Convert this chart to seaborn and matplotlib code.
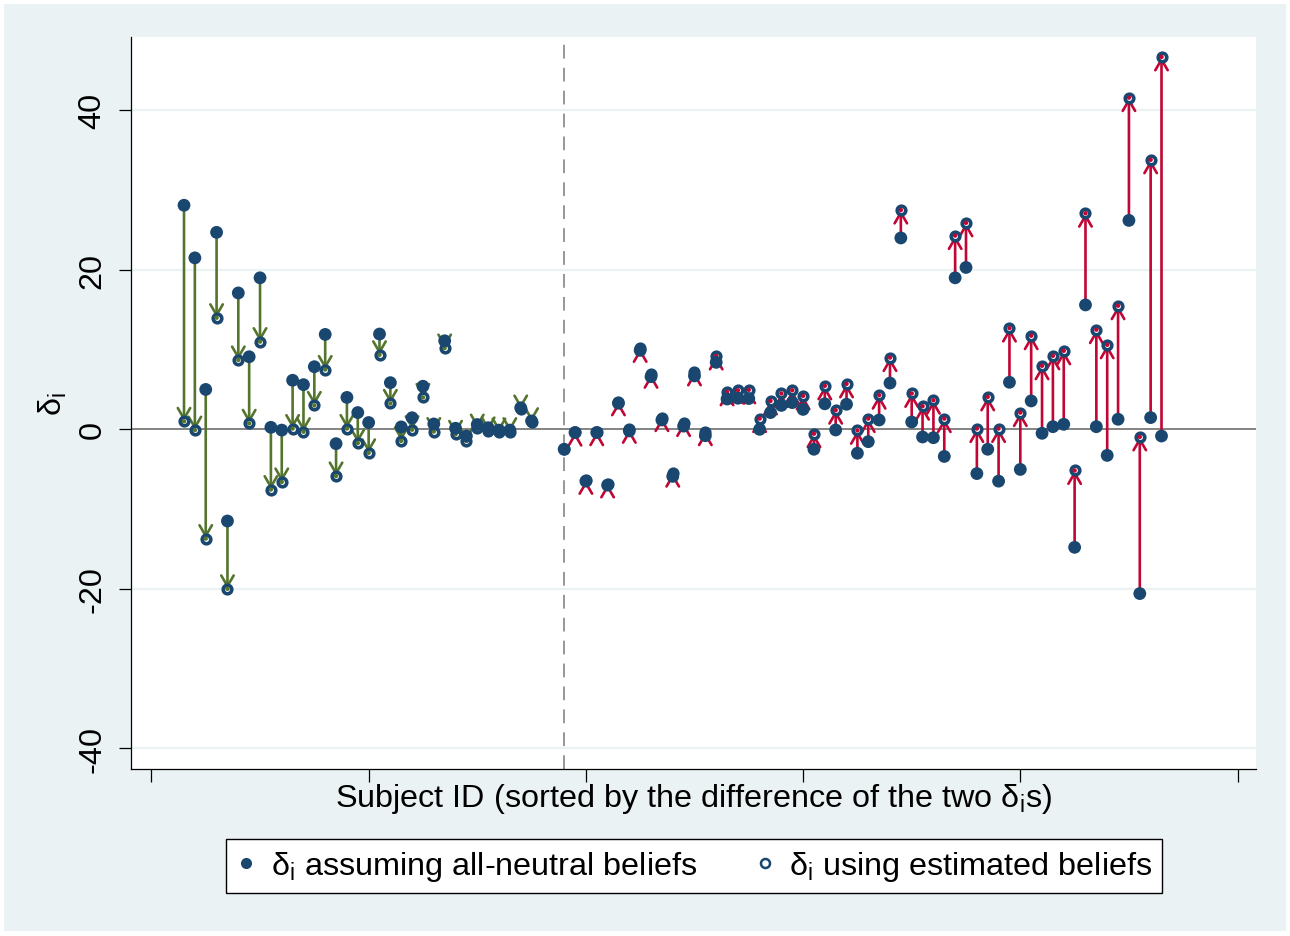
#%%
# libraries
import numpy as np
import pandas as pd
import seaborn as sns
import matplotlib.pyplot as plt
from matplotlib.lines import Line2D
from matplotlib.patches import Rectangle


#%%
# data
subject_rank = list(range(3, 36)) + list(range(38, 94))

delta_neutral = [
    28.1, 21.5, 5.0, 24.7, -11.5, 17.1, 9.1, 19.0, 0.25, -0.1, 6.15, 5.6, 7.85,
    11.9, -1.8, 4.0, 2.1, 0.85, 11.95, 5.85, 0.3, 1.45, 5.4, 0.67, 11.1, 0.13,
    -0.84, 0.6, 0.2, -0.1, -0.1, 2.7, 1.05,
    -2.5, -0.4, -6.5, -0.4, -7.0, 3.27, -0.2, 9.9, 6.6, 1.17, -5.9, 0.4, 6.7,
    -0.8, 8.4, 3.8, 3.9, 3.86, 0.0, 2.1, 3.0, 3.35, 2.5, -2.5, 3.2, -0.08, 3.14,
    -3.0, -1.55, 1.17, 5.8, 24.0, 0.92, -0.96, -1.05, -3.4, 19.0, 20.3, -5.55,
    -2.5, -6.5, 5.9, -5.03, 3.56, -0.5, 0.33, 0.63, -14.8, 15.6, 0.33, -3.27,
    1.26, 26.2, -20.6, 1.47, -0.84,
]

delta_estimated = [
    1.0, -0.1, -13.7, 14.0, -20.0, 8.7, 0.75, 11.0, -7.55, -6.6, 0.1, -0.3, 3.0,
    7.5, -5.85, 0.1, -1.72, -2.95, 9.35, 3.25, -1.45, -0.05, 4.0, -0.28, 10.2,
    -0.63, -1.47, 0.15, -0.2, -0.35, -0.3, 2.55, 0.95,
    -2.5, -0.35, -6.4, -0.3, -6.85, 3.45, 0.0, 10.15, 6.9, 1.47, -5.5, 0.85, 7.2,
    -0.3, 9.2, 4.7, 4.9, 4.95, 1.35, 3.56, 4.5, 4.9, 4.2, -0.55, 5.45, 2.4, 5.7,
    -0.13, 1.35, 4.28, 9.0, 27.5, 4.5, 2.9, 3.65, 1.34, 24.3, 25.9, 0.1,
    4.07, 0.1, 12.7, 2.1, 11.74, 7.97, 9.22, 9.85, -5.16, 27.1, 12.5, 10.6,
    15.5, 41.6, -0.95, 33.8, 46.7,
]

split_rank = 38

df = pd.DataFrame({"rank": subject_rank, "neutral": delta_neutral, "estimated": delta_estimated})
df["diff"] = df["estimated"] - df["neutral"]


#%%
# colors (stata s2color)
NAVY = "#1A476F"
GREEN = "#55752F"
RED = "#C10534"
BG = "#EAF2F3"

sns.set_style("white")
plt.rcParams["font.family"] = ["Liberation Sans", "DejaVu Sans"]
plt.rcParams["mathtext.fontset"] = "custom"
plt.rcParams["mathtext.rm"] = "Liberation Sans"
plt.rcParams["mathtext.it"] = "Liberation Sans:italic"
for key in ["text.color", "axes.labelcolor", "xtick.color", "ytick.color"]:
    plt.rcParams[key] = "black"
FS = 23.3

fig = plt.figure(figsize=(12.9, 9.37), dpi=100)
fig.patch.set_facecolor("white")
fig.add_artist(Rectangle((4 / 1290, 5 / 937), 1282 / 1290, 927 / 937,
                         transform=fig.transFigure, facecolor=BG, edgecolor="none", zorder=-10))
ax = fig.add_axes([131 / 1290, 1 - 770 / 937, 1125 / 1290, 732 / 937])
ax.set_facecolor("white")


#%%
# arrows from neutral to estimated
for _, r in df.iterrows():
    if r["diff"] == 0:
        continue
    col = GREEN if r["diff"] < 0 else RED
    ax.annotate("", xy=(r["rank"], r["estimated"]), xytext=(r["rank"], r["neutral"]),
                arrowprops=dict(arrowstyle="->,head_length=0.55,head_width=0.32", color=col,
                                lw=1.9, shrinkA=0, shrinkB=0, mutation_scale=14),
                zorder=2)

# markers
sns.scatterplot(data=df, x="rank", y="estimated", ax=ax, s=38, facecolor="white",
                edgecolor=NAVY, linewidth=2.6, zorder=3, legend=False)
dots = df[df["diff"] != 0]
ax.scatter(dots["rank"], dots["estimated"], s=10, c=np.where(dots["diff"] < 0, GREEN, RED),
           linewidths=0, zorder=3.5)
sns.scatterplot(data=df, x="rank", y="neutral", ax=ax, s=85, color=NAVY,
                edgecolor="none", zorder=4, legend=False)

# reference lines
ax.axhline(0, color="#7a7a7a", lw=1.3, zorder=1)
ax.axvline(split_rank, color="#7a7a7a", lw=1.1, ls=(0, (9, 6)), zorder=1)


#%%
# axes styling
ax.set_xlim(-1.88, 101.7)
ax.set_ylim(-42.6, 49.2)
ax.set_xticks(range(0, 101, 20))
ax.set_xticklabels([])
ax.set_yticks([-40, -20, 0, 20, 40])
ax.set_yticklabels(["-40", "-20", "0", "20", "40"], fontsize=FS)
for lbl in ax.get_yticklabels():
    lbl.set_rotation(90)
    lbl.set_va("center")
ax.tick_params(axis="both", direction="out", length=9, width=0.9, color="black",
               bottom=True, left=True)
ax.tick_params(axis="y", pad=8)
ax.tick_params(axis="x", pad=0)
for gy in [-40, -20, 20, 40]:
    ax.axhline(gy, color=BG, lw=1.6, zorder=0)
for side in ["top", "right"]:
    ax.spines[side].set_visible(False)
for side in ["left", "bottom"]:
    ax.spines[side].set_color("black")
    ax.spines[side].set_linewidth(0.9)

ax.set_xlabel(r"Subject ID (sorted by the difference of the two $\mathrm{δ_i}$s)", fontsize=FS, labelpad=0)
ax.set_ylabel(r"$\mathrm{δ_i}$", fontsize=FS, labelpad=6)


#%%
# legend
handles = [
    Line2D([], [], ls="none", marker="o", markersize=8, color=NAVY, markeredgecolor="none"),
    Line2D([], [], ls="none", marker="o", markersize=6.5, markerfacecolor="white",
           markeredgecolor=NAVY, markeredgewidth=1.8),
]
labels = [r"$\mathrm{δ_i}$ assuming all-neutral beliefs", r"$\mathrm{δ_i}$ using estimated beliefs"]
leg = fig.legend(handles, labels, loc="center", bbox_to_anchor=(694 / 1290, 1 - 867 / 937),
                 ncol=2, fontsize=FS, frameon=True, fancybox=False, edgecolor="black",
                 facecolor="white", framealpha=1.0,
                 handlelength=0.68, handletextpad=0.42, columnspacing=1.75, borderpad=0.3)
leg.get_frame().set_linewidth(1.0)

fig.savefig("out.png", dpi=100)
